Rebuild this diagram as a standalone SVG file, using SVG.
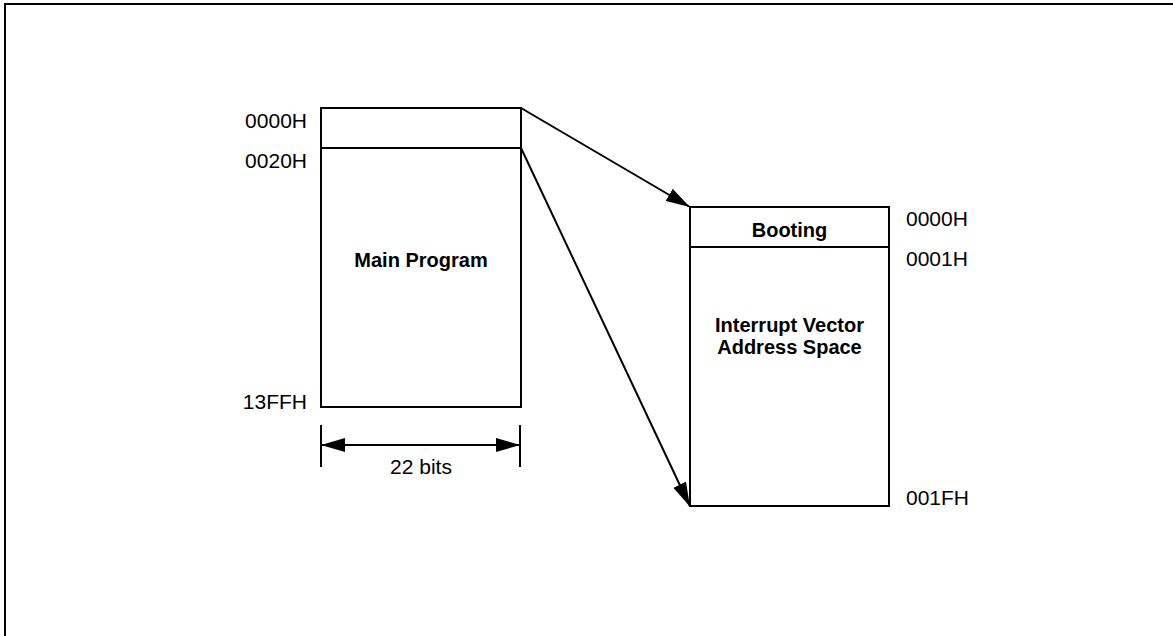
<svg xmlns="http://www.w3.org/2000/svg" width="1173" height="636" viewBox="0 0 1173 636">
<defs>
<style>
.box{fill:#fff;stroke:#000;stroke-width:2}
.ln{stroke:#000;stroke-width:2;fill:none}
.lbl{font-family:"Liberation Sans",Arial,sans-serif;font-size:21px;fill:#000}
.bold{font-family:"Liberation Sans",Arial,sans-serif;font-size:20px;font-weight:bold;fill:#000}
</style>
<marker id="ah" markerUnits="userSpaceOnUse" markerWidth="24" markerHeight="14" refX="23" refY="7" orient="auto-start-reverse" viewBox="0 0 24 14">
<path d="M0,0 L24,7 L0,14 Z" fill="#000"/>
</marker>
</defs>
<rect x="5" y="4" width="1200" height="700" fill="#fff" stroke="#000" stroke-width="2"/>
<g id="main-program">
<rect class="box" x="321" y="108" width="200" height="299"/>
<line class="ln" x1="321" y1="148" x2="521" y2="148"/>
<text class="bold" x="421" y="267" text-anchor="middle">Main Program</text>
<text class="lbl" x="307" y="128" text-anchor="end">0000H</text>
<text class="lbl" x="307" y="168" text-anchor="end">0020H</text>
<text class="lbl" x="307" y="409" text-anchor="end">13FFH</text>
</g>
<g id="width-dimension">
<line class="ln" x1="321" y1="425" x2="321" y2="467"/>
<line class="ln" x1="520" y1="425" x2="520" y2="467"/>
<line class="ln" x1="322" y1="445" x2="519" y2="445" marker-start="url(#ah)" marker-end="url(#ah)"/>
<text class="lbl" x="421" y="474" text-anchor="middle">22 bits</text>
</g>
<g id="vector-space">
<rect class="box" x="690" y="207" width="199" height="299"/>
<line class="ln" x1="690" y1="247" x2="889" y2="247"/>
<text class="bold" x="789.5" y="237" text-anchor="middle">Booting</text>
<text class="bold" x="789.5" y="332" text-anchor="middle">Interrupt Vector</text>
<text class="bold" x="789.5" y="354" text-anchor="middle">Address Space</text>
<text class="lbl" x="906" y="226">0000H</text>
<text class="lbl" x="906" y="266">0001H</text>
<text class="lbl" x="906" y="505">001FH</text>
</g>
<g id="connectors">
<line class="ln" x1="521" y1="108" x2="689" y2="206.5" marker-end="url(#ah)"/>
<line class="ln" x1="521" y1="148" x2="689.5" y2="505.5" marker-end="url(#ah)"/>
</g>
</svg>
